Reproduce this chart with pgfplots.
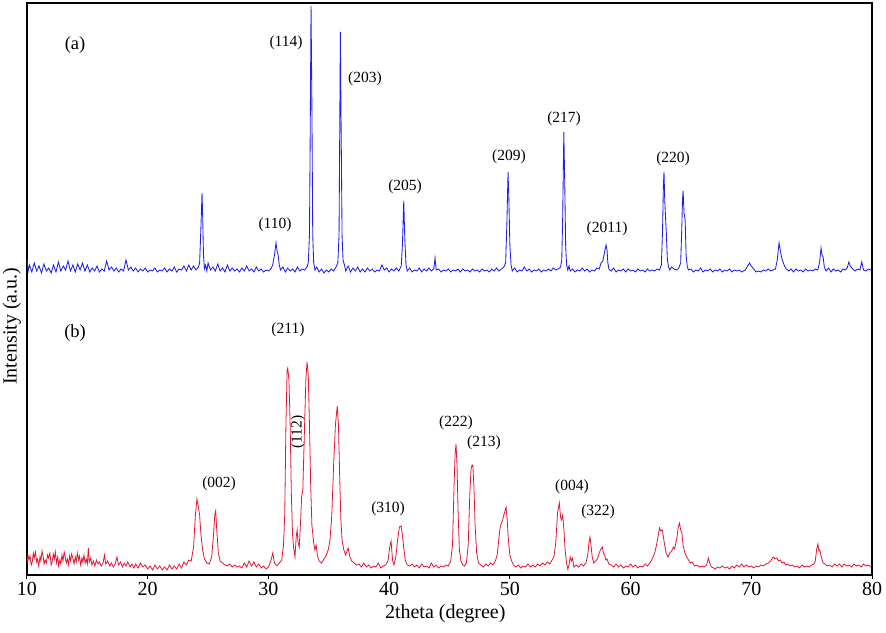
\documentclass[border=0pt]{standalone}
\usepackage{pgfplots}
\pgfplotsset{compat=1.18}
\usepackage{fontspec}
\setmainfont{Liberation Serif}
\definecolor{xrdblue}{RGB}{30,30,240}
\definecolor{xrdred}{RGB}{228,22,50}
\begin{document}
\begin{tikzpicture}
\begin{axis}[
  name=ax,
  scale only axis,
  width=845pt, height=572pt,
  xmin=10, xmax=80, ymin=0, ymax=572,
  xtick={10,20,...,80},
  ytick=\empty,
  axis line style={line width=2.2pt},
  tick style={black, line width=1pt},
  tick align=outside,
  major tick length=4pt,
  xtick pos=bottom,
  /pgf/number format/assume math mode=true,
  ticklabel style={font=\fontsize{20}{24}\selectfont},
  xlabel={2theta (degree)},
  ylabel={Intensity (a.u.)},
  label style={font=\fontsize{20}{24}\selectfont},
  xlabel style={at={(axis description cs:0.495,-0.068)}, anchor=center},
  ylabel style={at={(axis description cs:-0.0178,0.435)}, anchor=center, rotate=0},
]
% (a) blue pattern
\addplot[color=xrdblue, line width=0.85pt] coordinates {
(10.0,316) (10.1,304) (10.2,310) (10.4,303) (10.6,312) (10.8,304) (11.0,309) (11.2,302) (11.4,311) (11.6,304) (11.8,307) (12.0,302) (12.2,310) (12.4,303) (12.6,313) (12.8,304) (13.0,309) (13.2,305) (13.4,314) (13.6,304) (13.8,310) (14.0,303) (14.2,311) (14.4,305) (14.6,312) (14.8,304) (15.0,310) (15.2,303) (15.4,307) (15.6,304) (15.8,309) (16.0,303) (16.2,306) (16.4,304) (16.6,314) (16.8,305) (17.0,308) (17.2,304) (17.4,307) (17.6,303) (17.8,306) (18.0,304) (18.2,315) (18.4,305) (18.6,308) (18.8,304) (19.0,307) (19.2,303) (19.4,306) (19.6,304) (19.8,307) (20.0,303) (20.2,305) (20.4,304) (20.6,307) (20.8,303) (21.0,305) (21.2,304) (21.4,307) (21.6,303) (21.8,306) (22.0,304) (22.2,308) (22.4,303) (22.6,306) (22.8,305) (23.0,309) (23.2,304) (23.4,310) (23.6,305) (23.8,309) (24.0,305) (24.2,308) (24.3,312) (24.4,345) (24.5,382) (24.55,360) (24.62,320) (24.7,306) (24.8,310) (24.9,304) (25.0,312) (25.2,305) (25.4,308) (25.6,304) (25.8,311) (26.0,304) (26.2,307) (26.4,303) (26.6,310) (26.8,304) (27.0,307) (27.2,304) (27.4,306) (27.6,303) (27.8,307) (28.0,304) (28.2,309) (28.4,304) (28.6,306) (28.8,303) (29.0,308) (29.2,304) (29.4,306) (29.6,303) (29.8,305) (30.0,304) (30.2,306) (30.35,310) (30.5,320) (30.63,332) (30.72,324) (30.8,320) (30.9,310) (31.0,305) (31.2,308) (31.4,303) (31.6,307) (31.8,304) (32.0,306) (32.2,303) (32.4,308) (32.6,304) (32.8,306) (33.0,305) (33.2,308) (33.3,312) (33.4,340) (33.46,440) (33.53,569) (33.6,470) (33.67,340) (33.75,312) (33.85,305) (34.0,308) (34.2,303) (34.4,306) (34.6,302) (34.8,305) (35.0,303) (35.2,306) (35.4,304) (35.6,308) (35.75,312) (35.85,340) (35.91,450) (35.96,543) (36.02,450) (36.1,340) (36.18,315) (36.3,310) (36.4,304) (36.6,309) (36.8,303) (37.0,307) (37.2,304) (37.4,308) (37.6,303) (37.8,306) (38.0,303) (38.2,307) (38.4,304) (38.6,306) (38.8,303) (39.0,305) (39.2,304) (39.4,310) (39.6,305) (39.8,307) (40.0,303) (40.2,306) (40.4,304) (40.6,307) (40.8,304) (41.0,309) (41.1,330) (41.21,374) (41.3,335) (41.4,310) (41.5,304) (41.7,307) (41.9,303) (42.1,305) (42.3,304) (42.5,307) (42.7,303) (42.9,306) (43.1,304) (43.3,307) (43.5,304) (43.7,306) (43.8,317) (43.9,305) (44.1,306) (44.3,303) (44.5,305) (44.7,304) (44.9,306) (45.1,303) (45.3,305) (45.5,304) (45.7,306) (45.9,303) (46.1,306) (46.3,304) (46.5,305) (46.7,303) (46.9,306) (47.1,304) (47.3,305) (47.5,303) (47.7,306) (47.9,304) (48.1,305) (48.3,303) (48.5,306) (48.7,304) (48.9,307) (49.1,304) (49.3,306) (49.5,308) (49.65,312) (49.75,350) (49.85,403) (49.92,375) (50.0,330) (50.1,310) (50.2,304) (50.4,307) (50.6,303) (50.8,305) (51.0,304) (51.2,308) (51.4,304) (51.6,306) (51.8,303) (52.0,305) (52.2,304) (52.4,306) (52.6,303) (52.8,305) (53.0,304) (53.2,306) (53.4,304) (53.6,307) (53.8,305) (54.0,306) (54.2,308) (54.3,315) (54.38,360) (54.47,443) (54.55,390) (54.62,330) (54.7,310) (54.8,305) (54.9,309) (55.0,304) (55.2,306) (55.4,303) (55.6,305) (55.8,304) (56.0,307) (56.2,304) (56.4,306) (56.6,303) (56.8,305) (57.0,304) (57.2,307) (57.4,306) (57.55,312) (57.7,314) (57.8,320) (57.9,326) (57.97,330) (58.05,325) (58.12,312) (58.2,306) (58.4,304) (58.6,307) (58.8,303) (59.0,305) (59.2,304) (59.4,306) (59.6,303) (59.8,306) (60.0,304) (60.2,305) (60.4,303) (60.6,306) (60.8,304) (61.0,305) (61.2,303) (61.4,306) (61.6,304) (61.8,305) (62.0,304) (62.2,306) (62.4,305) (62.55,310) (62.65,345) (62.72,390) (62.77,403) (62.83,375) (62.9,357) (62.97,340) (63.05,315) (63.15,308) (63.25,305) (63.4,308) (63.6,306) (63.8,305) (64.0,307) (64.15,312) (64.25,350) (64.3,375) (64.35,384) (64.43,362) (64.52,355) (64.6,320) (64.7,308) (64.8,305) (65.0,306) (65.2,303) (65.4,305) (65.6,304) (65.8,307) (66.0,303) (66.2,305) (66.4,304) (66.6,306) (66.8,303) (67.0,305) (67.2,304) (67.4,306) (67.6,303) (67.8,305) (68.0,304) (68.2,306) (68.4,303) (68.6,305) (68.8,304) (69.0,305) (69.2,303) (69.5,305) (69.7,309) (69.85,312) (70.0,309) (70.2,306) (70.4,303) (70.6,304) (70.8,303) (71.0,305) (71.2,304) (71.4,306) (71.6,304) (71.8,305) (72.0,306) (72.15,315) (72.3,332) (72.4,325) (72.5,318) (72.6,314) (72.75,309) (72.9,306) (73.1,304) (73.3,306) (73.5,303) (73.7,306) (73.9,304) (74.1,305) (74.3,303) (74.5,306) (74.7,304) (74.9,305) (75.1,304) (75.3,306) (75.5,305) (75.65,312) (75.78,327) (75.86,320) (75.95,318) (76.05,308) (76.2,304) (76.4,307) (76.6,303) (76.8,306) (77.0,304) (77.2,305) (77.4,303) (77.6,306) (77.8,305) (77.95,307) (78.08,313) (78.2,309) (78.4,306) (78.6,304) (78.8,306) (79.0,305) (79.15,313) (79.3,305) (79.5,304) (79.7,306) (79.9,305)
};
% (b) red pattern
\addplot[color=xrdred, line width=0.8pt] coordinates {
(10.0,12) (10.08,20) (10.16,15) (10.25,19) (10.35,10) (10.45,14) (10.52,22) (10.6,17) (10.7,23) (10.8,13) (10.88,16) (10.97,9) (11.08,18) (11.15,14) (11.25,24) (11.33,19) (11.42,11) (11.5,15) (11.6,12) (11.7,20) (11.78,17) (11.9,22) (12.0,10) (12.08,13) (12.18,21) (12.27,16) (12.35,23) (12.45,12) (12.55,18) (12.62,9) (12.72,15) (12.8,11) (12.9,20) (12.98,14) (13.08,23) (13.17,18) (13.25,12) (13.35,16) (13.45,10) (13.52,19) (13.62,14) (13.7,21) (13.8,17) (13.9,11) (14.0,18) (14.08,13) (14.17,22) (14.27,15) (14.35,19) (14.45,10) (14.55,17) (14.63,13) (14.72,20) (14.82,12) (14.9,16) (15.0,11) (15.08,27) (15.16,13) (15.27,17) (15.38,10) (15.5,14) (15.62,9) (15.75,15) (15.88,11) (16.0,13) (16.15,9) (16.3,12) (16.42,20) (16.52,11) (16.68,14) (16.85,9) (17.0,12) (17.15,8) (17.3,11) (17.45,18) (17.58,10) (17.75,13) (17.9,8) (18.05,12) (18.2,9) (18.35,13) (18.55,8) (18.7,11) (18.85,7) (19.0,11) (19.2,7) (19.4,12) (19.6,8) (19.8,10) (20.0,6) (20.2,9) (20.4,5) (20.6,10) (20.8,6) (21.0,9) (21.2,5) (21.4,8) (21.6,5) (21.8,10) (22.0,6) (22.2,9) (22.4,6) (22.6,11) (22.8,7) (23.0,13) (23.2,10) (23.4,15) (23.6,14) (23.8,28) (23.95,60) (24.08,76) (24.2,68) (24.3,60) (24.4,42) (24.55,25) (24.7,16) (24.9,12) (25.1,11) (25.3,18) (25.45,40) (25.55,60) (25.63,64) (25.72,45) (25.85,22) (26.0,14) (26.2,12) (26.4,10) (26.6,9) (26.8,11) (27.0,8) (27.2,10) (27.4,8) (27.6,9) (27.8,7) (28.0,12) (28.2,8) (28.4,14) (28.6,9) (28.8,13) (29.0,8) (29.2,11) (29.4,7) (29.6,9) (29.8,6) (30.0,8) (30.2,14) (30.36,22) (30.5,12) (30.7,9) (30.9,12) (31.1,15) (31.25,30) (31.35,60) (31.45,150) (31.55,205) (31.6,207) (31.7,195) (31.8,150) (31.9,80) (32.0,40) (32.08,28) (32.2,18) (32.3,38) (32.38,45) (32.45,33) (32.55,28) (32.65,50) (32.75,78) (32.85,85) (32.95,130) (33.1,195) (33.2,213) (33.3,200) (33.4,150) (33.5,90) (33.6,50) (33.75,32) (33.85,25) (33.95,30) (34.05,20) (34.2,14) (34.4,12) (34.6,16) (34.8,20) (34.95,25) (35.1,35) (35.25,60) (35.4,110) (35.55,150) (35.7,169) (35.8,150) (35.9,100) (36.0,55) (36.1,35) (36.25,25) (36.4,20) (36.6,27) (36.75,18) (36.9,14) (37.1,12) (37.3,10) (37.5,11) (37.7,8) (37.9,12) (38.1,8) (38.3,10) (38.5,7) (38.7,9) (38.9,8) (39.1,12) (39.3,7) (39.5,9) (39.7,10) (39.9,14) (40.05,28) (40.16,34) (40.28,15) (40.4,10) (40.55,18) (40.7,35) (40.85,48) (40.99,49) (41.1,40) (41.2,28) (41.35,14) (41.5,10) (41.7,9) (41.9,11) (42.1,8) (42.3,10) (42.5,7) (42.7,11) (42.9,8) (43.1,9) (43.3,7) (43.5,12) (43.7,8) (43.9,10) (44.1,7) (44.3,9) (44.5,8) (44.7,10) (44.9,9) (45.1,14) (45.25,30) (45.38,90) (45.46,120) (45.54,131) (45.62,110) (45.72,60) (45.82,25) (45.95,14) (46.1,10) (46.25,9) (46.4,12) (46.55,30) (46.68,80) (46.78,105) (46.86,110) (46.93,110) (47.02,90) (47.12,50) (47.25,22) (47.4,12) (47.6,10) (47.8,8) (48.0,11) (48.2,9) (48.4,12) (48.6,10) (48.8,14) (48.95,20) (49.1,38) (49.2,48) (49.3,52) (49.4,55) (49.5,60) (49.6,64) (49.69,68) (49.78,55) (49.88,35) (50.0,20) (50.15,14) (50.3,10) (50.5,8) (50.7,10) (50.9,7) (51.1,9) (51.3,8) (51.5,11) (51.7,8) (51.9,10) (52.1,8) (52.3,11) (52.5,9) (52.7,12) (52.9,10) (53.1,13) (53.3,11) (53.5,15) (53.65,18) (53.8,32) (53.95,62) (54.1,72) (54.2,58) (54.28,55) (54.38,60) (54.48,45) (54.58,25) (54.7,12) (54.8,6) (54.9,10) (55.0,18) (55.1,14) (55.2,17) (55.3,8) (55.5,10) (55.7,8) (55.9,11) (56.1,9) (56.3,12) (56.45,20) (56.55,32) (56.64,38) (56.72,30) (56.82,18) (56.95,12) (57.1,14) (57.25,16) (57.4,22) (57.5,25) (57.6,27) (57.66,28) (57.75,22) (57.85,20) (57.95,15) (58.05,16) (58.2,11) (58.4,10) (58.6,8) (58.8,11) (59.0,8) (59.2,10) (59.4,7) (59.6,9) (59.8,8) (60.0,11) (60.2,8) (60.4,10) (60.6,7) (60.8,9) (61.0,8) (61.2,11) (61.4,9) (61.6,12) (61.8,16) (62.0,22) (62.15,30) (62.3,40) (62.4,47) (62.5,44) (62.63,45) (62.72,38) (62.82,30) (62.95,22) (63.1,18) (63.25,22) (63.4,24) (63.55,28) (63.65,26) (63.75,32) (63.85,38) (63.95,48) (64.05,52) (64.15,45) (64.25,42) (64.35,30) (64.5,22) (64.65,18) (64.8,15) (64.95,12) (65.1,13) (65.3,9) (65.5,10) (65.7,8) (65.9,9) (66.1,8) (66.3,10) (66.45,17) (66.55,12) (66.7,8) (66.9,7) (67.0,6) (67.2,8) (67.4,7) (67.6,9) (67.8,7) (68.0,8) (68.2,6) (68.4,9) (68.6,7) (68.8,10) (69.0,8) (69.2,11) (69.4,8) (69.6,10) (69.8,8) (70.0,9) (70.2,7) (70.4,9) (70.6,8) (70.8,10) (71.0,9) (71.2,11) (71.4,12) (71.6,14) (71.75,17) (71.85,18) (71.95,16) (72.1,17) (72.25,14) (72.4,15) (72.55,12) (72.7,13) (72.85,10) (73.0,11) (73.2,9) (73.4,10) (73.6,8) (73.8,9) (74.0,7) (74.2,10) (74.4,8) (74.6,9) (74.8,8) (75.0,10) (75.2,11) (75.3,14) (75.42,26) (75.52,31) (75.6,24) (75.68,25) (75.8,18) (75.95,12) (76.1,11) (76.3,9) (76.5,10) (76.7,8) (76.9,11) (77.1,9) (77.3,11) (77.5,8) (77.7,11) (77.9,9) (78.1,10) (78.3,8) (78.5,11) (78.7,9) (78.9,10) (79.1,8) (79.3,11) (79.5,9) (79.7,10) (79.9,8)
};
\begin{scope}[every node/.style={font=\fontsize{15.5}{18}\selectfont, inner sep=0pt}]
\node[font=\fontsize{18.5}{22}\selectfont] at (axis cs:13.98,530) {(a)};
\node at (axis cs:31.46,532) {(114)};
\node at (axis cs:38.0,496) {(203)};
\node at (axis cs:30.55,350) {(110)};
\node at (axis cs:41.32,388) {(205)};
\node at (axis cs:49.93,418) {(209)};
\node at (axis cs:54.49,456) {(217)};
\node at (axis cs:58.05,346) {(2011)};
\node at (axis cs:63.52,416) {(220)};
\node[font=\fontsize{18.5}{22}\selectfont] at (axis cs:13.98,242) {(b)};
\node at (axis cs:31.62,245) {(211)};
\node[rotate=90] at (axis cs:32.45,143) {(112)};
\node at (axis cs:45.54,152) {(222)};
\node at (axis cs:47.86,132) {(213)};
\node at (axis cs:39.91,66) {(310)};
\node at (axis cs:55.15,88) {(004)};
\node at (axis cs:57.31,63) {(322)};
\node at (axis cs:25.91,91) {(002)};
\end{scope}
\end{axis}
\pgfresetboundingbox
\path ([shift={(-27pt,-57pt)}]ax.south west) rectangle ([shift={(14pt,3pt)}]ax.north east);
\end{tikzpicture}
\end{document}
